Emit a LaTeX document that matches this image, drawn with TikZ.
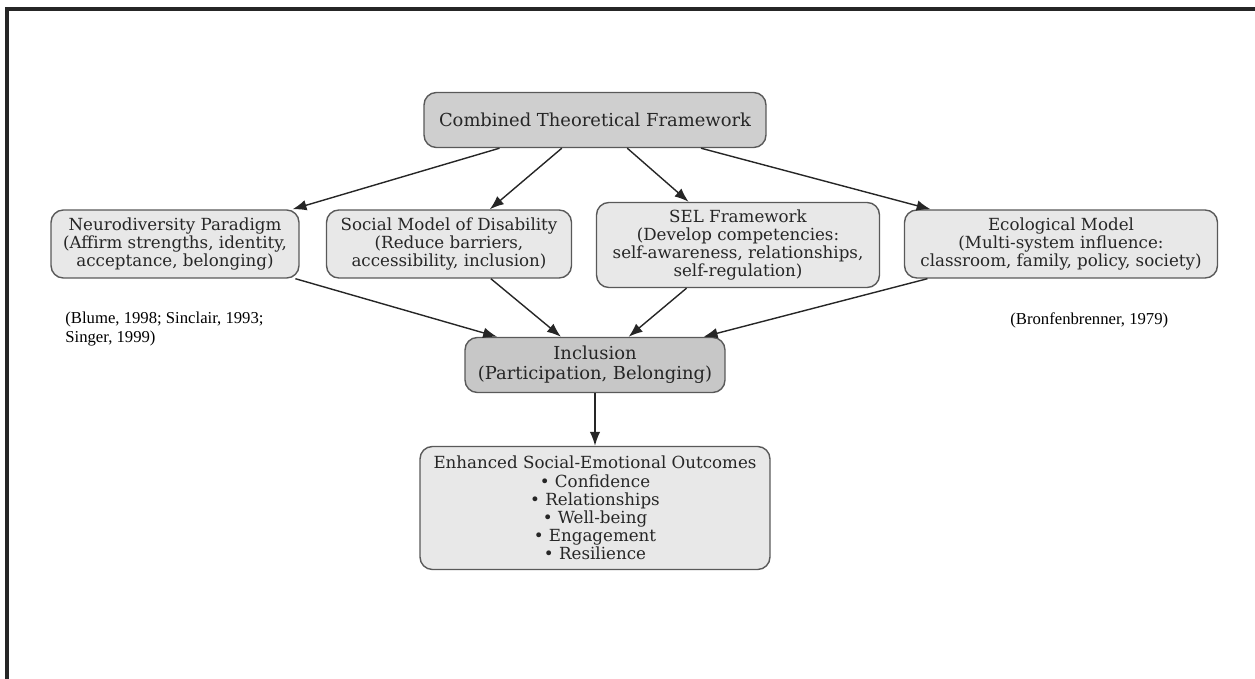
\documentclass[tikz,border=0pt]{standalone}
\usepackage{fontspec}
\setmainfont{DejaVu Serif}
\newfontfamily\citefont{Liberation Serif}
\usetikzlibrary{shapes,arrows.meta,positioning}

\tikzset{
  box/.style={draw=black!65, line width=0.8pt, rounded corners=7pt, fill=gray!18,
    text=black!85, align=center, inner sep=2pt, font=\fontsize{9.5}{10.3}\selectfont},
  darkbox/.style={box, fill=gray!38, font=\fontsize{10.2}{11.2}\selectfont},
  link/.style={-{Latex[length=8pt,width=6pt]}, black!85, line width=0.8pt},
  cite/.style={font=\citefont\fontsize{9.5}{10.5}\selectfont, align=left, anchor=north west, inner sep=0pt}
}

\begin{document}
\begin{tikzpicture}[x=0.02cm, y=-0.02cm]
    \useasboundingbox (0,0) rectangle (1255,679);

    % Frame
    \draw[line width=2pt, black!85] (1255,9) -- (7,9) -- (7,679);

    % Top
    \node[darkbox, minimum width=6.84cm, minimum height=1.1cm] (frame) at (595,120) {Combined Theoretical Framework};

    % Four models
    \node[box, minimum width=4.96cm, minimum height=1.36cm] (neuro) at (175,244) {Neurodiversity Paradigm\\(Affirm strengths, identity,\\acceptance, belonging)};
    \node[box, minimum width=4.9cm, minimum height=1.36cm] (social) at (449,244) {Social Model of Disability\\(Reduce barriers,\\accessibility, inclusion)};
    \node[box, minimum width=5.66cm, minimum height=1.7cm] (sel) at (738,245) {SEL Framework\\(Develop competencies:\\self-awareness, relationships,\\self-regulation)};
    \node[box, minimum width=6.26cm, minimum height=1.36cm] (eco) at (1061,244) {Ecological Model\\(Multi-system influence:\\classroom, family, policy, society)};

    % Citations
    \node[cite] (citeleft) at (65,312) {(Blume, 1998; Sinclair, 1993;\\Singer, 1999)};
    \node[cite] (citeright) at (1010,312) {(Bronfenbrenner, 1979)};

    % Inclusion and outcomes
    \node[darkbox, fill=gray!44, minimum width=5.2cm, minimum height=1.1cm] (incl) at (595,365) {Inclusion\\(Participation, Belonging)};
    \node[box, minimum width=7cm, minimum height=2.46cm] (out) at (595,508) {Enhanced Social-Emotional Outcomes\\{\textbullet} Confidence\\{\textbullet} Relationships\\{\textbullet} Well-being\\{\textbullet} Engagement\\{\textbullet} Resilience};

    % Arrows
    \foreach \m in {neuro,social,sel,eco} {
        \draw[link] (frame) -- (\m);
        \draw[link] (\m) -- (incl);
    }
    \draw[link] (incl) -- (out);

\end{tikzpicture}
\end{document}
